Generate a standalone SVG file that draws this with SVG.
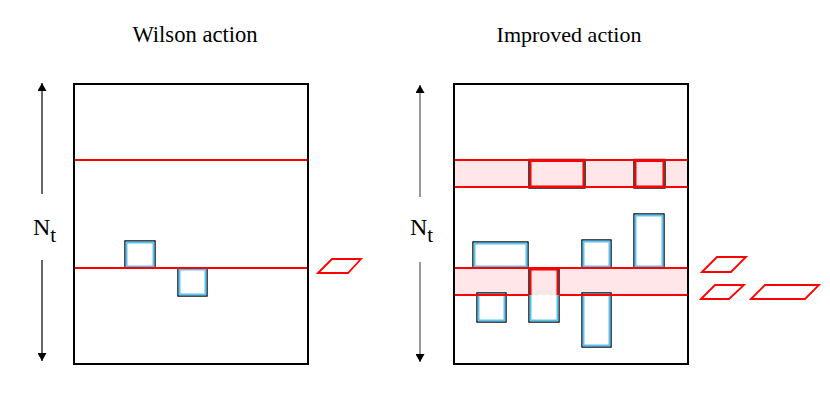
<svg xmlns="http://www.w3.org/2000/svg" width="830" height="405" viewBox="0 0 830 405">
<style>
.frame{fill:#fff;stroke:#000;stroke-width:2}
.band{fill:#ffe6e8;stroke:none}
.rl{stroke:#ff0000;stroke-width:2;fill:none}
.ob{fill:none;stroke:#000;stroke-width:1.4}
.ib{fill:none;stroke:#5ac3f3;stroke-width:2}
.ir{fill:none;stroke:#ff0000;stroke-width:2}
.par{fill:none;stroke:#ff0000;stroke-width:1.8}
.axis{stroke:#000;stroke-width:1.2;fill:none}
</style>
<defs>
<marker id="ah" markerUnits="userSpaceOnUse" markerWidth="8" markerHeight="9" refX="8" refY="4.5" orient="auto-start-reverse">
<path d="M0,0 L8,4.5 L0,9 Z" fill="#000"/>
</marker>
</defs>

<text font-family="Liberation Serif, Times New Roman, DejaVu Serif, serif" font-size="22.6" x="195" y="42" text-anchor="middle">Wilson action</text>
<text font-family="Liberation Serif, Times New Roman, DejaVu Serif, serif" font-size="22" x="569" y="42" text-anchor="middle">Improved action</text>

<g id="wilson-panel">
<rect class="frame" x="74" y="84" width="234" height="280"/>
<g id="w-sq1"><rect class="ob" x="125" y="241" width="30" height="27"/><rect class="ib" x="126.5" y="242.5" width="27" height="24"/></g>
<g id="w-sq2"><rect class="ob" x="178" y="268" width="29" height="28"/><rect class="ib" x="179.5" y="269.5" width="26" height="25"/></g>
<line class="rl" x1="75" y1="160" x2="307" y2="160"/>
<line class="rl" x1="75" y1="268" x2="307" y2="268"/>
</g>
<g id="w-plaq"><polygon class="par" points="318,273 332,259 361,259 348,273"/></g>
<g id="w-label"><text font-family="Liberation Serif, Times New Roman, DejaVu Serif, serif" font-size="24" x="33" y="235">N<tspan font-size="21" dy="7">t</tspan></text></g>

<g id="improved-panel">
<rect class="frame" x="454" y="84" width="234" height="280"/>
<rect class="band" x="455" y="160" width="232" height="27"/>
<rect class="band" x="455" y="268" width="232" height="27"/>
<g id="i-A"><rect class="ob" x="473" y="242" width="55" height="26"/><rect class="ib" x="474.5" y="243.5" width="52" height="23"/></g>
<g id="i-B"><rect class="ob" x="477" y="293" width="29" height="29"/><rect class="ib" x="478.5" y="294.5" width="26" height="26"/></g>
<g id="i-C">
<rect x="530" y="295" width="28" height="26" fill="#fff"/>
<rect class="ob" x="529" y="268" width="30" height="54"/>
<path class="ir" d="M530.5,295 V269.5 H557.5 V295"/>
<path class="ib" d="M530.5,295 V320.5 H557.5 V295"/>
</g>
<g id="i-D"><rect class="ob" x="582" y="240" width="29" height="28"/><rect class="ib" x="583.5" y="241.5" width="26" height="25"/></g>
<g id="i-E"><rect class="ob" x="582" y="293" width="29" height="54"/><rect class="ib" x="583.5" y="294.5" width="26" height="51"/></g>
<g id="i-F"><rect class="ob" x="634" y="214" width="30" height="54"/><rect class="ib" x="635.5" y="215.5" width="27" height="51"/></g>
<g id="i-R1"><rect class="ob" x="529" y="159.5" width="56" height="28.5"/><rect class="ir" x="530.5" y="161" width="53" height="25.5"/></g>
<g id="i-R2"><rect class="ob" x="634" y="159.5" width="31" height="28.5"/><rect class="ir" x="635.5" y="161" width="28" height="25.5"/></g>
<line class="rl" x1="455" y1="160" x2="687" y2="160"/>
<line class="rl" x1="455" y1="187" x2="687" y2="187"/>
<line class="rl" x1="455" y1="268" x2="687" y2="268"/>
<line class="rl" x1="455" y1="295" x2="529" y2="295"/>
<line class="rl" x1="559" y1="295" x2="687" y2="295"/>
</g>
<g id="i-plaq1"><polygon class="par" points="702,272 717,257 746,257 731,272"/></g>
<g id="i-plaq2"><polygon class="par" points="701,299 715,285 744,285 729,299"/></g>
<g id="i-rect6"><polygon class="par" points="751,299 765,285 819,285 805,299"/></g>
<g id="i-label"><text font-family="Liberation Serif, Times New Roman, DejaVu Serif, serif" font-size="24" x="410" y="235">N<tspan font-size="21" dy="7">t</tspan></text></g>

<g id="connectors">
<line class="axis" x1="42" y1="194" x2="42" y2="83" marker-end="url(#ah)"/>
<line class="axis" x1="42" y1="260" x2="42" y2="361" marker-end="url(#ah)"/>
<line class="axis" x1="420" y1="197" x2="420" y2="85" marker-end="url(#ah)" style="stroke:#555"/>
<line class="axis" x1="420" y1="262" x2="420" y2="362" marker-end="url(#ah)" style="stroke:#555"/>
</g>
</svg>
